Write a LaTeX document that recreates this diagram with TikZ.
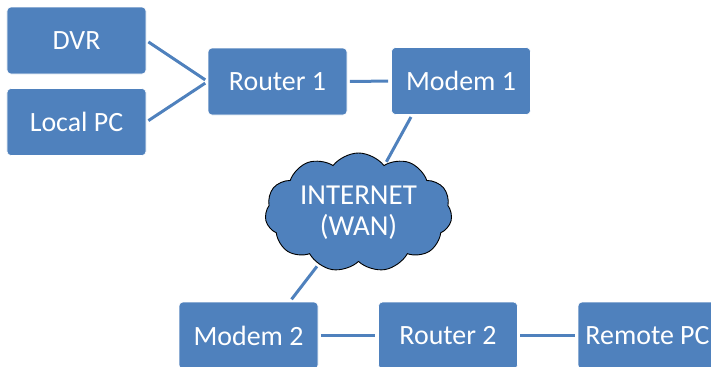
\documentclass[tikz,border=0pt]{standalone}
\usepackage{fontspec}
\setmainfont{Carlito}
\usetikzlibrary{shapes.symbols}
\definecolor{boxblue}{HTML}{4F81BD}
\begin{document}
\begin{tikzpicture}[x=1bp,y=-1bp,
		box/.style={draw=white,line width=0.6bp,fill=boxblue,rounded corners=4bp,minimum width=139bp,minimum height=67bp,inner sep=2bp,text=white,font=\fontsize{28}{30}\selectfont},
		net/.style={cloud,cloud puffs=11,cloud puff arc=105,cloud ignores aspect,draw=black,line width=0.9bp,fill=boxblue,minimum width=187bp,minimum height=119bp,inner sep=0pt,align=center,text=white,font=\fontsize{29}{31}\selectfont},
		link/.style={boxblue,line width=3bp,shorten <=2.5bp,shorten >=3bp}]
		\clip (0,0) rectangle (711,366);
		\node[box] (dvr) at (76.5,40.5) {DVR};
		\node[box] (localpc) at (76.5,122) {Local PC};
		\node[box] (router1) at (277.5,81.5) {Router 1};
		\node[box] (modem1) at (461,81) {Modem 1};
		\node[box] (modem2) at (248.5,335.5) {Modem 2};
		\node[box] (router2) at (448,335.5) {Router 2};
		\node[box] (remotepc) at (647.5,335.5) {Remote PC};
		\node[net] (internet) at (358.5,212.5) {INTERNET\\(WAN)};
		\draw[link] (dvr.east)--(router1.west);
		\draw[link] (localpc.east)--(router1.west);
		\draw[link] (router1)--(modem1);
		\draw[link] ([xshift=21bp]modem1.south west)--(internet);
		\draw[link] (internet)--([xshift=111bp]modem2.north west);
		\draw[link] (modem2)--(router2);
		\draw[link] (router2)--(remotepc);
	\end{tikzpicture}
\end{document}
